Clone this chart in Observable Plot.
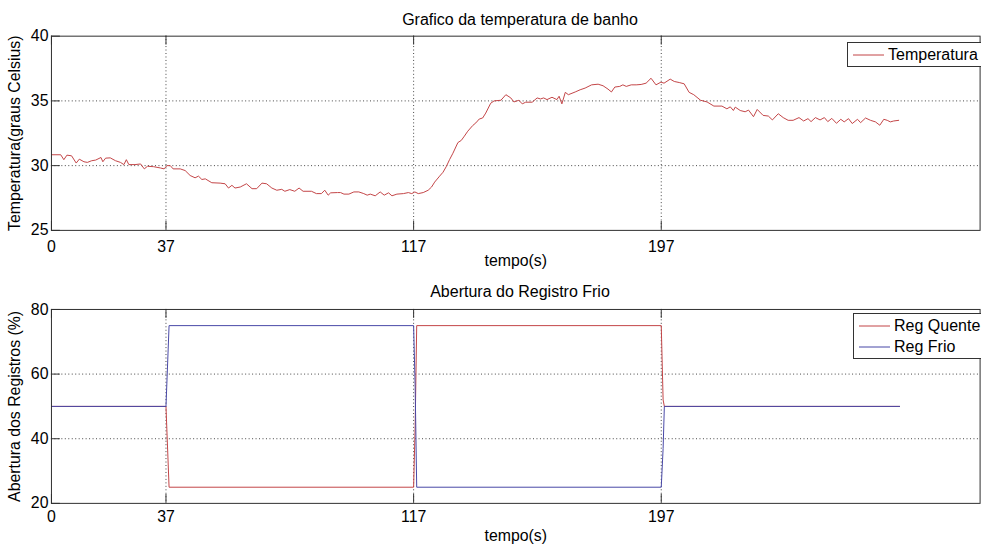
<!DOCTYPE html>
<html><head><meta charset="utf-8">
<script src="https://cdn.jsdelivr.net/npm/d3@7"></script>
<script src="https://cdn.jsdelivr.net/npm/@observablehq/plot@0.6"></script>
<style>
html,body{margin:0;padding:0;background:#fff;overflow:hidden;}
#wrap{position:relative;width:981px;height:544px;overflow:hidden;font-family:"Liberation Sans",Arial,sans-serif;color:#000;}
.panel{position:absolute;left:0;}
.title{position:absolute;left:0;width:1040px;text-align:center;font-size:16px;line-height:18px;}
.legend{position:absolute;border:1px solid #333;background:#fff;font-size:16px;}
.legend .row{position:relative;height:21px;display:flex;align-items:center;}
.legend svg{display:block;margin:0 4px 0 5px;}
</style>
</head><body>
<div id="wrap"></div>
<script>
// ---- data ----
const xTicks = [0, 37, 117, 197];
const tempTicks = [25, 30, 35, 40];
const regTicks = [20, 40, 60, 80];

const tempTime = [0,3,4,5,6.5,8,9,10.5,11.6,13,14.3,16,16.6,17.5,19,20.7,22.3,23.4,24.2,25,27,28.8,30,31,33,35.2,36.4,37.3,38.4,39.3,41.6,43.2,44.8,46.4,47.5,48.6,49.7,51.8,54.5,56.1,57.2,58.3,59.3,61,63,64.8,66.3,68,69.5,71.2,72.8,74.4,75.4,77,78.6,80,81.3,84,85.6,87.2,88.3,89.4,
90.2,92.4,93.4,94.5,96.1,97.7,99.3,100.9,102,103,104.6,106.2,107.5,108.9,110,111.6,113.7,115.3,116.4,117.4,118.5,120.1,121.7,122.8,123.8,125.4,126.5,127.6,128.6,129.7,131.3,132.4,133.4,134.5,136.1,137.1,138.2,139.3,140.3,141.9,143,
145.2,146.8,148.4,149.4,151,152.1,153.2,155.3,156.9,158,159,160.1,161.7,163.3,164,164.9,166,167,169.2,170.8,172.4,174.5,176.6,178.2,179.8,180.9,182,183.6,184.6,185.7,187.3,188.9,190.5,192.1,193.7,195.3,196.9,197.9,199.9,201.2,202.8,204.4,206,207.5,
209.7,211.8,214,216.6,218.2,219.3,220.3,220.9,222.5,224.1,225.2,226.8,228,229.9,231.6,232.9,234.8,236.4,238,239.6,241.5,243,244.4,245.4,246.8,248.3,249.7,250.8,252.1,253.6,255,256.1,257.5,258.7,260.4,261.4,263,264.6,266.2,267.6,268.9,270,271,272.1,273.7];
const tempValue = [30.84,30.84,30.46,30.81,30.76,30.2,30.5,30.3,30.25,30.38,30.43,30.63,30.3,30.58,30.6,30.38,30.25,30.08,30.46,30.08,30.08,30.13,29.75,29.95,29.92,29.82,29.75,30.0,30.0,29.75,29.75,29.62,29.24,29.06,29.19,28.93,28.98,28.68,28.65,28.6,28.27,28.48,28.27,28.35,28.6,28.22,28.22,28.65,28.6,28.27,28.1,28.17,28.02,28.15,28.02,28.27,28.02,28.02,27.84,27.84,28.1,27.72,
27.9,27.92,27.92,27.8,27.8,27.97,27.97,27.84,27.72,27.8,27.67,27.97,27.72,27.9,27.67,27.8,27.84,27.92,27.84,27.97,27.84,27.92,28.1,28.35,28.73,29.19,29.49,29.95,30.46,30.96,31.78,31.95,32.28,32.66,33.1,33.3,33.6,33.68,34.06,34.82,35.0,
35.05,35.48,35.23,34.92,35.05,34.77,34.9,34.9,35.23,35.15,35.23,35.1,35.28,35.1,35.36,34.77,35.66,35.48,35.69,35.86,35.99,36.24,36.29,36.17,35.91,35.69,36.07,36.12,36.24,36.12,36.24,36.24,36.27,36.37,36.75,36.24,36.45,36.37,36.68,36.5,36.42,36.32,35.66,35.48,
35.05,34.92,34.6,34.6,34.39,34.54,34.26,34.52,34.26,34.16,34.29,33.78,34.34,33.88,33.83,33.53,34.01,33.71,33.5,33.5,33.71,33.45,33.63,33.4,33.71,33.53,33.71,33.4,33.65,33.27,33.58,33.38,33.63,33.25,33.58,33.32,33.68,33.5,33.38,33.12,33.58,33.5,33.38,33.45,33.5];

const regTime  = [0, 37, 38, 117, 117.5, 118, 197, 197.6, 198, 274];
const regHot   = [50, 50, 25, 25, 44, 75, 75, 52, 50, 50];
const regCold  = [50, 50, 75, 75, 56, 25, 25, 37, 50, 50];

const colorHot = "#c24446";
const colorCold = "#4747a6";

// ---- build ----
const W = 990, mL = 51.4, mR = 1.4;
const innerW = W - mL - mR;
const FONT = "Liberation Sans, Arial, sans-serif";
const wrap = document.getElementById("wrap");

function panel({top, mT, innerH, mB, yDomain, yTicks, yLabel, yGrid, tickPad, labelOff, marks}) {
  const p = Plot.plot({
    width: W, height: mT + innerH + mB,
    marginLeft: mL, marginRight: mR, marginTop: mT, marginBottom: mB,
    style: {fontFamily: FONT, fontSize: "16px", color: "#000", background: "transparent", overflow: "visible"},
    x: {domain: [0, 300], ticks: xTicks, tickSize: 0, tickPadding: tickPad, label: "tempo(s)", labelAnchor: "center", labelArrow: "none", labelOffset: labelOff},
    y: {domain: yDomain, ticks: yTicks, tickSize: 0, tickPadding: 3, label: yLabel, labelAnchor: "center", labelArrow: "none", labelOffset: 43},
    marks: [
      Plot.ruleX(xTicks.slice(1), {stroke: "#444", strokeDasharray: "1,2.5", strokeWidth: 1}),
      Plot.ruleY(yGrid, {stroke: "#444", strokeDasharray: "1,2.5", strokeWidth: 1}),
      ...marks,
      Plot.ruleX(xTicks, {stroke: "#333", insetTop: innerH - 9}),
      Plot.ruleX(xTicks, {stroke: "#333", insetBottom: innerH - 9}),
      Plot.ruleY(yTicks, {stroke: "#333", insetRight: innerW - 9}),
      Plot.frame({stroke: "#2e2e2e", strokeWidth: 1})
    ]
  });
  p.classList.add("panel");
  p.style.top = top + "px";
  wrap.appendChild(p);
}

const tempData = tempTime.map((t, i) => ({t, v: tempValue[i]}));
const regData = [
  ...regTime.map((t, i) => ({t, v: regHot[i], s: "Reg Quente"})),
  ...regTime.map((t, i) => ({t, v: regCold[i], s: "Reg Frio"}))
];

panel({
  top: 0, mT: 36, innerH: 196, mB: 40, tickPad: 10, labelOff: 36,
  yDomain: [25, 40], yTicks: tempTicks, yGrid: [30, 35],
  yLabel: "Temperatura(graus Celsius)",
  marks: [Plot.line(tempData, {x: "t", y: "v", stroke: colorHot, strokeWidth: 1})]
});

panel({
  top: 272, mT: 37.3, innerH: 195.7, mB: 39, tickPad: 7, labelOff: 38,
  yDomain: [20, 80], yTicks: regTicks, yGrid: [40, 60],
  yLabel: "Abertura dos Registros (%)",
  marks: [
    Plot.line(regData.filter(d => d.s === "Reg Quente"), {x: "t", y: "v", stroke: colorHot, strokeWidth: 1}),
    Plot.line(regData.filter(d => d.s === "Reg Frio"), {x: "t", y: "v", stroke: colorCold, strokeWidth: 1})
  ]
});

// titles
function title(text, centerY) {
  const d = document.createElement("div");
  d.className = "title";
  d.textContent = text;
  d.style.top = (centerY - 9) + "px";
  wrap.appendChild(d);
}
title("Grafico da temperatura de banho", 20);
title("Abertura do Registro Frio", 292);

// legends
function legend(items, left, top) {
  const d = document.createElement("div");
  d.className = "legend";
  d.style.left = left + "px";
  d.style.top = top + "px";
  d.style.width = "160px";
  d.style.padding = "1px 0";
  for (const [label, color] of items) {
    const r = document.createElement("div");
    r.className = "row";
    r.innerHTML = `<svg width="31" height="4"><line x1="0" x2="31" y1="2" y2="2" stroke="${color}" stroke-width="1"/></svg><span>${label}</span>`;
    d.appendChild(r);
  }
  wrap.appendChild(d);
}
legend([["Temperatura", colorHot]], 847, 42);
legend([["Reg Quente", colorHot], ["Reg Frio", colorCold]], 853, 313);
</script>
</body></html>
